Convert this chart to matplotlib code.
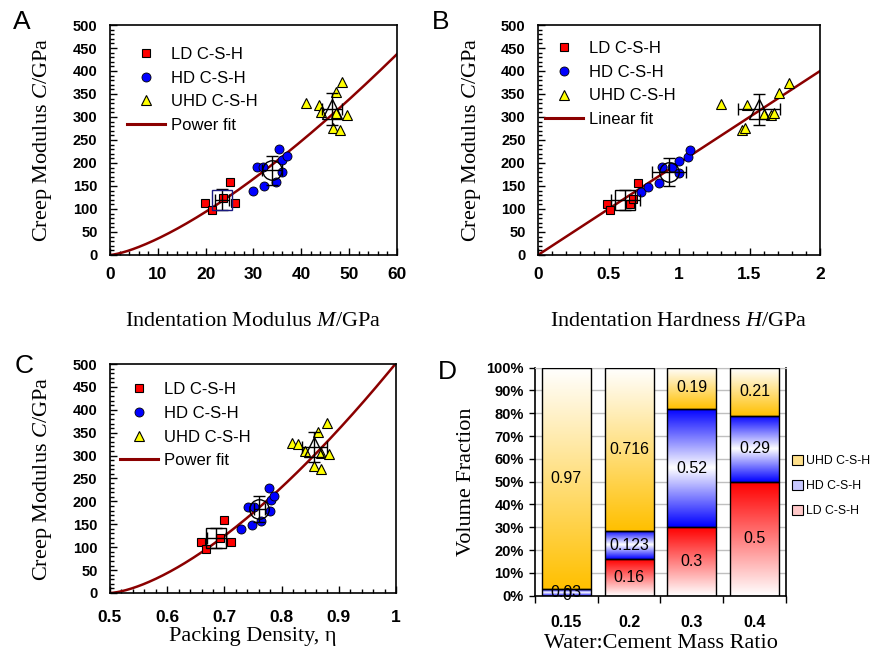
import matplotlib.pyplot as plt
import numpy as np
from matplotlib.lines import Line2D
from matplotlib.patches import Patch, Rectangle
from matplotlib.ticker import MultipleLocator, FixedLocator, PercentFormatter

plt.rcParams['font.family'] = ['Liberation Sans', 'DejaVu Sans']
plt.rcParams['mathtext.fontset'] = 'custom'
plt.rcParams['mathtext.rm'] = 'Liberation Serif'
plt.rcParams['mathtext.it'] = 'Liberation Serif:italic'
SERIF = ['Liberation Serif', 'DejaVu Serif']

## --- data --- ##

# panel A: creep modulus vs indentation modulus
a_ld_x = [19.9, 21.4, 23.6, 25.1, 26.2]
a_ld_y = [114, 98, 123, 159, 114]
a_hd_x = [30.0, 30.7, 31.9, 32.2, 34.8, 35.4, 36.0, 36.0, 37.1]
a_hd_y = [140, 191, 191, 150, 158, 230, 206, 180, 215]
a_uhd_x = [41.0, 43.8, 44.2, 47.2, 48.4, 47.3, 49.5, 46.6, 48.1]
a_uhd_y = [330, 325, 311, 354, 375, 308, 305, 277, 271]
a_mean_x = [23.4, 33.9, 46.4]
a_mean_y = [120, 184, 318]
a_err_x = [1.5, 2.1, 2.0]
a_err_y = [23, 31, 35]
a_fit = (1.415, 1.4)        # C = a * M**b

# panel B: creep modulus vs indentation hardness
b_ld_x = [0.49, 0.51, 0.65, 0.67, 0.71]
b_ld_y = [111, 97, 111, 122, 157]
b_hd_x = [0.73, 0.78, 0.86, 0.88, 0.95, 1.00, 1.00, 1.06, 1.08]
b_hd_y = [138, 148, 157, 191, 191, 205, 178, 214, 229]
b_uhd_x = [1.30, 1.45, 1.47, 1.48, 1.60, 1.65, 1.67, 1.71, 1.78]
b_uhd_y = [329, 271, 277, 325, 307, 304, 309, 353, 373]
b_mean_x = [0.62, 0.93, 1.566]
b_mean_y = [119, 180, 317]
b_err_x = [0.10, 0.12, 0.15]
b_err_y = [22, 31, 34]
b_fit = 200.0               # C = k * H

# panel C: creep modulus vs packing density
c_ld_x = [0.659, 0.668, 0.692, 0.699, 0.711]
c_ld_y = [111, 97, 120, 159, 111]
c_hd_x = [0.729, 0.749, 0.742, 0.751, 0.764, 0.777, 0.781, 0.780, 0.786]
c_hd_y = [139, 149, 188, 188, 158, 229, 204, 180, 212]
c_uhd_x = [0.818, 0.829, 0.841, 0.856, 0.868, 0.863, 0.879, 0.868, 0.883]
c_uhd_y = [328, 325, 309, 278, 270, 351, 372, 306, 304]
c_mean_x = [0.686, 0.761, 0.857]
c_mean_y = [120, 183, 318]
c_err_x = [0.017, 0.010, 0.022]
c_err_y = [22, 28, 33]
c_fit = (1440.0, 1.52, 0.5)  # C = a * (eta - eta0)**b

# panel D: volume fractions
wc_ratio = ['0.15', '0.2', '0.3', '0.4']
frac_ld = [0, 0.16, 0.3, 0.5]
frac_hd = [0.03, 0.123, 0.52, 0.29]
frac_uhd = [0.97, 0.716, 0.19, 0.21]

FIT_COLOR = '#8B0000'

fig = plt.figure(figsize=(8.75, 6.58), dpi=100)
axA = fig.add_axes([0.1257, 0.6125, 0.328, 0.3495])
axB = fig.add_axes([0.6149, 0.6125, 0.3223, 0.3495])
axC = fig.add_axes([0.1257, 0.0988, 0.327, 0.348])
axD = fig.add_axes([0.6114, 0.0947, 0.2869, 0.3465])


def scatter_panel(ax, ld, hd, uhd, mx, my, ex, ey, fx, fy, fit_label, sq_color,
                  leg_anchor):
    ax.plot(fx, fy, color=FIT_COLOR, lw=1.8, zorder=2)
    ax.plot(*ld, 's', ms=6, mfc='#FF0000', mec='black', mew=0.8, zorder=3)
    ax.plot(*hd, 'o', ms=6.5, mfc='#0000FF', mec='black', mew=0.6, zorder=3)
    ax.plot(*uhd, '^', ms=7, mfc='#FFFF00', mec='black', mew=0.8, zorder=3)
    for (x, y, dx, dy, m, c) in zip(mx, my, ex, ey, ['s', 'o', '^'],
                                    [sq_color, 'black', 'black']):
        ax.errorbar(x, y, xerr=dx, yerr=dy, fmt=m, ms=14, mfc='none', mec=c,
                    mew=1.0, ecolor='black', elinewidth=1.0, capsize=4,
                    capthick=1.0, zorder=4)
    handles = [
        Line2D([], [], ls='none', marker='s', ms=6, mfc='#FF0000', mec='black', mew=0.8),
        Line2D([], [], ls='none', marker='o', ms=6.5, mfc='#0000FF', mec='black', mew=0.6),
        Line2D([], [], ls='none', marker='^', ms=7, mfc='#FFFF00', mec='black', mew=0.8),
        Line2D([], [], color=FIT_COLOR, lw=2.2),
    ]
    ax.legend(handles, ['LD C-S-H', 'HD C-S-H', 'UHD C-S-H', fit_label],
              loc='upper left', bbox_to_anchor=leg_anchor, frameon=False,
              fontsize=12, handlelength=2.3, handletextpad=0.35,
              labelspacing=0.52, borderpad=0, borderaxespad=0)
    ax.set_ylim(0, 500)
    ax.yaxis.set_major_locator(MultipleLocator(50))
    ax.yaxis.set_minor_locator(MultipleLocator(10))
    ax.tick_params(which='both', direction='in', top=False, right=False,
                   width=1.0)
    ax.tick_params(which='major', length=5)
    ax.tick_params(which='minor', length=3)
    ax.tick_params(axis='y', labelsize=10.5, pad=9)
    ax.tick_params(axis='x', labelsize=12.5, pad=9)
    for lab in ax.get_xticklabels() + ax.get_yticklabels():
        lab.set_fontweight('bold')
    for sp in ax.spines.values():
        sp.set_linewidth(1.2)
    ax.set_ylabel('Creep Modulus $\\mathit{C}$/GPa', family=SERIF, fontsize=16)
    ax.yaxis.set_label_coords(-0.195, 0.5)


# A
m_line = np.linspace(0, 60, 200)
scatter_panel(axA, (a_ld_x, a_ld_y), (a_hd_x, a_hd_y), (a_uhd_x, a_uhd_y),
              a_mean_x, a_mean_y, a_err_x, a_err_y,
              m_line, a_fit[0] * m_line ** a_fit[1], 'Power fit', '#1A1A80',
              (0.058, 0.905))
axA.set_xlim(0, 60)
axA.xaxis.set_major_locator(MultipleLocator(10))
axA.xaxis.set_minor_locator(MultipleLocator(2))
axA.set_xlabel('Indentation Modulus $\\mathit{M}$/GPa', family=SERIF, fontsize=16)
axA.xaxis.set_label_coords(0.5, -0.25)

# B
h_line = np.linspace(0, 2, 50)
scatter_panel(axB, (b_ld_x, b_ld_y), (b_hd_x, b_hd_y), (b_uhd_x, b_uhd_y),
              b_mean_x, b_mean_y, b_err_x, b_err_y,
              h_line, b_fit * h_line, 'Linear fit', 'black', (0.025, 0.93))
axB.set_xlim(0, 2)
axB.xaxis.set_major_locator(FixedLocator([0, 0.5, 1, 1.5, 2]))
axB.xaxis.set_minor_locator(MultipleLocator(0.1))
axB.set_xticklabels(['0', '0.5', '1', '1.5', '2'], fontweight='bold')
axB.set_xlabel('Indentation Hardness $\\mathit{H}$/GPa', family=SERIF, fontsize=16)
axB.xaxis.set_label_coords(0.5, -0.25)

# C
e_line = np.linspace(0.5, 1, 200)
scatter_panel(axC, (c_ld_x, c_ld_y), (c_hd_x, c_hd_y), (c_uhd_x, c_uhd_y),
              c_mean_x, c_mean_y, c_err_x, c_err_y,
              e_line, c_fit[0] * (e_line - c_fit[2]) ** c_fit[1], 'Power fit',
              'black', (0.035, 0.92))
axC.set_xlim(0.5, 1)
axC.xaxis.set_major_locator(FixedLocator([0.5, 0.6, 0.7, 0.8, 0.9, 1.0]))
axC.xaxis.set_minor_locator(MultipleLocator(0.02))
axC.set_xticklabels(['0.5', '0.6', '0.7', '0.8', '0.9', '1'], fontweight='bold')
axC.tick_params(axis='x', pad=12)
axC.set_xlabel('Packing Density, η', family=SERIF, fontsize=16)
axC.xaxis.set_label_coords(0.5, -0.15)

## --- D: stacked bars with gradient fills --- ##


def grad_rect(ax, x0, x1, y0, y1, colors_bottom_to_top):
    n = 128
    t = np.linspace(0, 1, n)
    stops = np.array([plt.matplotlib.colors.to_rgb(c) for c in colors_bottom_to_top])
    pos = np.linspace(0, 1, len(stops))
    img = np.stack([np.interp(t, pos, stops[:, k]) for k in range(3)], axis=1)
    ax.imshow(img[:, None, :], extent=(x0, x1, y0, y1), origin='lower',
              aspect='auto', interpolation='bilinear', zorder=2)
    ax.add_patch(Rectangle((x0, y0), x1 - x0, y1 - y0, fill=False,
                           ec='black', lw=1.0, zorder=3))


GOLD = '#FFC000'
BLUE = '#0000FF'
RED = '#FF0000'
bar_w = 0.78
for i in range(len(wc_ratio)):
    x0, x1 = i - bar_w / 2, i + bar_w / 2
    b0 = 0
    segs = [(frac_ld[i], [(1, 1, 1), RED]),
            (frac_hd[i], [BLUE, (1, 1, 1), BLUE]),
            (frac_uhd[i], [GOLD, (1, 1, 1)])]
    for val, cols in segs:
        if val > 0:
            grad_rect(axD, x0, x1, b0, min(b0 + val, 1.0), cols)
        axD.text(i, b0 + val / 2, f'{val:g}', ha='center', va='center',
                 fontsize=11.5, zorder=5)
        b0 += val

axD.set_xlim(-0.5, len(wc_ratio) - 0.5)
axD.set_ylim(0, 1)
axD.yaxis.set_major_locator(MultipleLocator(0.1))
axD.yaxis.set_major_formatter(PercentFormatter(1.0, decimals=0))
axD.grid(axis='y', color='#BFBFBF', lw=1.0, zorder=0)
axD.set_axisbelow(True)
axD.set_xticks(range(len(wc_ratio)))
axD.set_xticklabels(wc_ratio, fontweight='bold')
axD.xaxis.set_minor_locator(FixedLocator(np.arange(-0.5, len(wc_ratio), 1.0)))
axD.tick_params(axis='x', which='major', length=0, pad=14, labelsize=11.5)
axD.tick_params(axis='x', which='minor', direction='out', length=5, width=1.0)
axD.tick_params(axis='y', direction='out', length=4, width=1.0, labelsize=10.5,
                pad=4)
for lab in axD.get_yticklabels():
    lab.set_fontweight('bold')
axD.spines['top'].set_color('#BFBFBF')
for k in ['left', 'bottom', 'right']:
    axD.spines[k].set_linewidth(1.2)
axD.set_ylabel('Volume Fraction', family=SERIF, fontsize=16)
axD.yaxis.set_label_coords(-0.235, 0.5)
axD.set_xlabel('Water:Cement Mass Ratio', family=SERIF, fontsize=16)
axD.xaxis.set_label_coords(0.5, -0.17)

leg_handles = [Patch(fc='#FFE08A', ec='black', lw=0.8),
               Patch(fc='#C8C8FF', ec='black', lw=0.8),
               Patch(fc='#FFC8C8', ec='black', lw=0.8)]
axD.legend(leg_handles, ['UHD C-S-H', 'HD C-S-H', 'LD C-S-H'],
           loc='center left', bbox_to_anchor=(1.025, 0.48), frameon=False,
           fontsize=8.8, handlelength=0.85, handleheight=0.85,
           handletextpad=0.3, labelspacing=1.05, borderpad=0, borderaxespad=0)

# panel letters
for lab, (x, y) in zip('ABCD', [(22, 22), (441, 22), (24, 366), (447, 372)]):
    fig.text(x / 875, 1 - y / 658, lab, fontsize=19, ha='center', va='center')

fig.savefig('out.png', dpi=100)
